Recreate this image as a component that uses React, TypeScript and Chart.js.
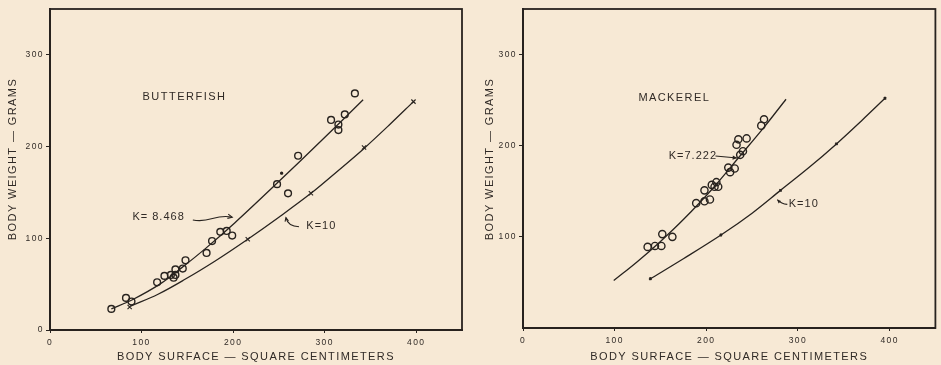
import React, { useEffect, useRef } from "react";
import { Chart, registerables } from "chart.js";

Chart.register(...registerables);

// ---------- data ----------
// Butterfish
const bfObsX = [67, 83, 89, 117, 125, 132, 135, 137, 137, 145, 148, 171, 177, 186, 193, 199, 248, 260, 271, 307, 315, 315, 322, 333];
const bfObsY = [23, 35, 31, 52, 59, 60, 57, 66, 60, 67, 76, 84, 97, 107, 108, 103, 159, 149, 190, 229, 224, 218, 235, 258];
const bfDotX = [253];
const bfDotY = [171];
const bfFitX = [67, 90, 120, 144, 170, 202, 249, 296, 342];
const bfFitY = [23, 33, 50, 68, 89, 117, 161, 206, 251];
const bfK10X = [88, 118, 147, 180, 216, 250, 285, 315, 343, 370, 397];
const bfK10Y = [26, 39, 55, 75, 99, 123, 149, 174, 198, 223, 249];
const bfK10MarkX = [87, 216, 285, 343, 397];
const bfK10MarkY = [25, 99, 149, 199, 249];

// Mackerel
const mkObsX = [136, 144, 151, 152, 163, 189, 198, 198, 204, 206, 209, 211, 213, 224, 226, 231, 233, 235, 237, 240, 244, 260, 263];
const mkObsY = [89, 90, 90, 103, 100, 137, 139, 151, 141, 157, 155, 160, 155, 176, 171, 175, 201, 207, 190, 194, 208, 222, 229];
const mkFitX = [99, 125, 150, 175, 206, 237, 262, 287];
const mkFitY = [52, 73, 95, 119, 152, 189, 219, 251];
const mkK10X = [139, 175, 216, 250, 281, 312, 342, 370, 395];
const mkK10Y = [54, 76, 102, 126, 151, 176, 202, 228, 252];
const mkK10MarkX = [139, 216, 281, 342, 395];
const mkK10MarkY = [54, 102, 151, 202, 252];

// axes
const xTickValues = [0, 100, 200, 300, 400];
const bfYTickValues = [0, 100, 200, 300];
const mkYTickValues = [100, 200, 300];
const X_MAX = 450;
const Y_MAX = 350;
const X_TITLE = "BODY SURFACE — SQUARE CENTIMETERS";
const Y_TITLE = "BODY WEIGHT — GRAMS";

// ---------- styles ----------
const INK = "#28231f";
const TEXT = "#302a26";
const BG = "#f7e9d5";
const FAMILY = "'Liberation Sans', Arial, sans-serif";

const pts = (xs: number[], ys: number[]) => xs.map((x, i) => ({ x, y: ys[i] }));

function circles(xs: number[], ys: number[], r: number) {
  return {
    data: pts(xs, ys),
    showLine: false,
    pointStyle: "circle",
    pointRadius: r,
    pointBorderWidth: 1.4,
    pointBorderColor: INK,
    pointBackgroundColor: "rgba(0,0,0,0)",
  };
}
function curve(xs: number[], ys: number[]) {
  return {
    data: pts(xs, ys),
    showLine: true,
    borderColor: INK,
    borderWidth: 1.3,
    pointRadius: 0,
    tension: 0.35,
    fill: false,
  };
}
function crosses(xs: number[], ys: number[], r: number, w: number) {
  return {
    data: pts(xs, ys),
    showLine: false,
    pointStyle: "crossRot",
    pointRadius: r,
    pointBorderWidth: w,
    pointBorderColor: INK,
    pointBackgroundColor: INK,
  };
}

type Note = { kind: "text"; x: number; y: number; text: string; size: number; spacing: number }
  | { kind: "arrow"; path: number[][]; head: number; filled: boolean };

function drawNotes(chart: any, notes: Note[]) {
  const ctx = chart.ctx as CanvasRenderingContext2D;
  const xs = chart.scales.x;
  const ys = chart.scales.y;
  const px = (p: number[]) => [xs.getPixelForValue(p[0]), ys.getPixelForValue(p[1])];
  ctx.save();
  ctx.fillStyle = TEXT;
  ctx.strokeStyle = INK;
  for (const n of notes) {
    if (n.kind === "text") {
      (ctx as any).letterSpacing = n.spacing + "px";
      ctx.font = `${n.size}px ${FAMILY}`;
      ctx.textAlign = "left";
      ctx.textBaseline = "middle";
      const [a, b] = px([n.x, n.y]);
      ctx.fillText(n.text, a, b);
    } else {
      const p = n.path.map(px);
      ctx.lineWidth = 1.1;
      ctx.beginPath();
      ctx.moveTo(p[0][0], p[0][1]);
      if (p.length === 2) ctx.lineTo(p[1][0], p[1][1]);
      else if (p.length === 3) ctx.quadraticCurveTo(p[1][0], p[1][1], p[2][0], p[2][1]);
      else ctx.bezierCurveTo(p[1][0], p[1][1], p[2][0], p[2][1], p[3][0], p[3][1]);
      ctx.stroke();
      const end = p[p.length - 1];
      const prev = p[p.length - 2];
      const ang = Math.atan2(end[1] - prev[1], end[0] - prev[0]);
      const h = n.head;
      const l = [end[0] - h * Math.cos(ang - 0.45), end[1] - h * Math.sin(ang - 0.45)];
      const r = [end[0] - h * Math.cos(ang + 0.45), end[1] - h * Math.sin(ang + 0.45)];
      ctx.beginPath();
      ctx.moveTo(l[0], l[1]);
      ctx.lineTo(end[0], end[1]);
      ctx.lineTo(r[0], r[1]);
      if (n.filled) {
        ctx.closePath();
        ctx.fillStyle = INK;
        ctx.fill();
        ctx.fillStyle = TEXT;
      } else ctx.stroke();
    }
  }
  ctx.restore();
}

function buildConfig(opts: {
  datasets: any[];
  yTicks: number[];
  yWidth: number;
  xHeight: number;
  padRight: number;
  yTitleX: number;
  yTitleY: number;
  notes: Note[];
}) {
  return {
    type: "scatter",
    data: { datasets: opts.datasets },
    options: {
      responsive: false,
      animation: false,
      devicePixelRatio: 1,
      layout: { padding: { top: 9, right: opts.padRight, left: 0, bottom: 0 } },
      plugins: { legend: { display: false }, tooltip: { enabled: false } },
      scales: {
        x: {
          type: "linear",
          min: 0,
          max: X_MAX,
          afterBuildTicks: (s: any) => {
            s.ticks = xTickValues.map((v) => ({ value: v }));
          },
          afterFit: (s: any) => {
            s.height = opts.xHeight;
          },
          grid: { drawOnChartArea: false, tickLength: 3, color: INK, lineWidth: 1 },
          border: { display: true, color: INK, width: 2 },
          ticks: { color: TEXT, font: { family: FAMILY, size: 8.5 }, padding: 5, maxRotation: 0, autoSkip: false },
          title: { display: true, text: X_TITLE, color: TEXT, font: { family: FAMILY, size: 11 }, padding: { top: 0, bottom: 1 } },
        },
        y: {
          type: "linear",
          min: 0,
          max: Y_MAX,
          afterBuildTicks: (s: any) => {
            s.ticks = opts.yTicks.map((v) => ({ value: v }));
          },
          afterFit: (s: any) => {
            s.width = opts.yWidth;
          },
          grid: { drawOnChartArea: false, tickLength: 4, color: INK, lineWidth: 1 },
          border: { display: true, color: INK, width: 2 },
          ticks: { color: TEXT, font: { family: FAMILY, size: 8.5 }, padding: 2, autoSkip: false },
          title: { display: false, text: Y_TITLE },
        },
      },
    },
    plugins: [
      {
        id: "paper",
        beforeDraw: (chart: any) => {
          const ctx = chart.ctx;
          ctx.save();
          ctx.fillStyle = BG;
          ctx.fillRect(0, 0, chart.width, chart.height);
          ctx.restore();
          ctx.letterSpacing = "1.4px";
        },
      },
      {
        id: "frameAndNotes",
        afterDatasetsDraw: (chart: any) => {
          const { ctx, chartArea: a } = chart;
          ctx.save();
          ctx.strokeStyle = INK;
          ctx.lineWidth = 1.8;
          ctx.strokeRect(a.left, a.top, a.right - a.left, a.bottom - a.top);
          // y axis title (rotated)
          ctx.translate(opts.yTitleX, opts.yTitleY);
          ctx.rotate(-Math.PI / 2);
          ctx.font = `11px ${FAMILY}`;
          ctx.letterSpacing = "1.4px";
          ctx.fillStyle = TEXT;
          ctx.textAlign = "center";
          ctx.textBaseline = "middle";
          ctx.fillText(chart.options.scales.y.title.text, 0, 0);
          ctx.restore();
          drawNotes(chart, opts.notes);
        },
      },
    ],
  };
}

const butterfishConfig = () =>
  buildConfig({
    datasets: [
      curve(bfFitX, bfFitY),
      curve(bfK10X, bfK10Y),
      circles(bfObsX, bfObsY, 3.4),
      { ...circles(bfDotX, bfDotY, 1), pointBackgroundColor: INK },
      crosses(bfK10MarkX, bfK10MarkY, 3, 1.1),
    ],
    yTicks: bfYTickValues,
    yWidth: 50,
    xHeight: 35,
    padRight: 8,
    yTitleX: 13,
    yTitleY: 159,
    notes: [
      { kind: "text", x: 101, y: 254, text: "BUTTERFISH", size: 11, spacing: 1.5 },
      { kind: "text", x: 90, y: 123, text: "K= 8.468", size: 11, spacing: 1 },
      { kind: "arrow", path: [[156, 120], [175, 116], [180, 127], [199, 123]], head: 5, filled: false },
      { kind: "text", x: 280, y: 113, text: "K=10", size: 11, spacing: 1 },
      { kind: "arrow", path: [[272, 112.6], [260, 112.6], [257.7, 122.4]], head: 4, filled: false },
    ],
  });

const mackerelConfig = () =>
  buildConfig({
    datasets: [
      curve(mkFitX, mkFitY),
      curve(mkK10X, mkK10Y),
      circles(mkObsX, mkObsY, 3.6),
      crosses(mkK10MarkX, mkK10MarkY, 1.6, 1.6),
    ],
    yTicks: mkYTickValues,
    yWidth: 53,
    xHeight: 37,
    padRight: 4,
    yTitleX: 20,
    yTitleY: 159,
    notes: [
      { kind: "text", x: 126, y: 252, text: "MACKEREL", size: 11, spacing: 1.4 },
      { kind: "text", x: 159, y: 189, text: "K=7.222", size: 11, spacing: 1 },
      { kind: "arrow", path: [[210, 188.7], [233.7, 186.5]], head: 5, filled: true },
      { kind: "text", x: 290, y: 136, text: "K=10", size: 11, spacing: 1 },
      { kind: "arrow", path: [[288.4, 135.6], [282, 136], [277.5, 140.8]], head: 4, filled: true },
    ],
  });

function FishChart({ build, width, height }: { build: () => any; width: number; height: number }) {
  const ref = useRef<HTMLCanvasElement>(null);
  useEffect(() => {
    const chart = new Chart(ref.current as HTMLCanvasElement, build());
    return () => chart.destroy();
  }, [build]);
  return (
    <div style={{ width, height, position: "relative", flex: "none" }}>
      <canvas ref={ref} width={width} height={height} style={{ display: "block", width, height }} />
    </div>
  );
}

export default function App() {
  useEffect(() => {
    document.body.style.margin = "0";
    document.body.style.background = BG;
  }, []);
  return (
    <div style={{ display: "flex", width: 941, height: 365, background: BG, overflow: "hidden" }}>
      <FishChart build={butterfishConfig} width={470} height={365} />
      <FishChart build={mackerelConfig} width={471} height={365} />
    </div>
  );
}
